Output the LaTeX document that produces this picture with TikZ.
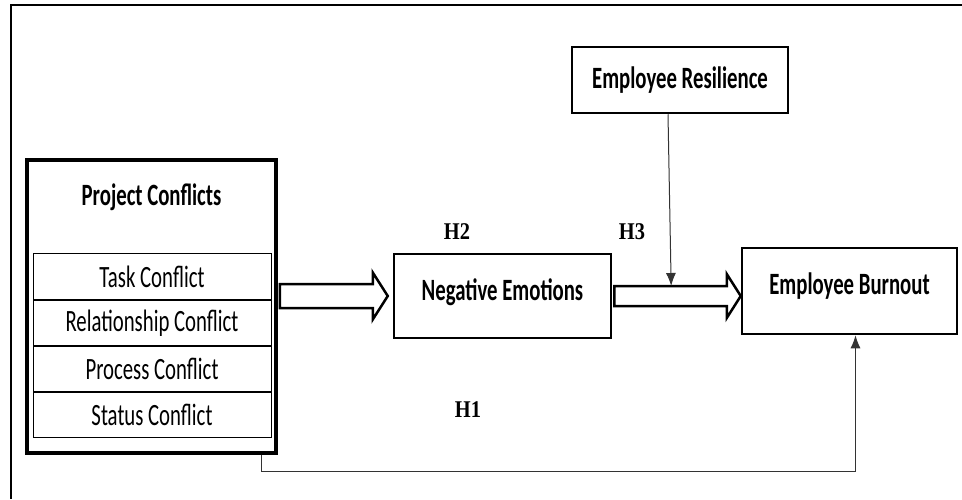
\documentclass[tikz,border=0pt]{standalone}
\usepackage{fontspec}
\setmainfont{Carlito}[FakeStretch=0.67]
\newfontfamily\hypfont{Liberation Serif}[FakeStretch=0.85]
\usetikzlibrary{positioning,calc,arrows.meta}
\tikzset{
    block/.style = {draw, rectangle, line width=2.5pt, inner sep=0pt,
        font=\fontsize{31}{36}\selectfont\bfseries},
    title/.style = {inner sep=0pt, font=\fontsize{31}{36}\selectfont\bfseries},
    row/.style = {draw, rectangle, line width=1pt, inner sep=0pt,
        minimum width=238pt, minimum height=45.25pt,
        font=\fontsize{31}{36}\selectfont},
    hollow/.style = {draw, line width=2.5pt, line join=miter},
    link/.style = {draw, line width=1pt, black!80, -{Latex[length=13pt,width=10pt]}},
    hyp/.style = {inner sep=0pt, font=\hypfont\fontsize{24}{28}\selectfont\bfseries}
}
\begin{document}
\begin{tikzpicture}[x=1pt,y=-1pt]
            \useasboundingbox (0,0) rectangle (962,499);
            \draw[line width=2pt] (962,5) -- (11,5) -- (11,499);
            % conflict types
            \node[block, line width=3.5pt, minimum width=249pt, minimum height=293pt] (pc) at (151.5,306.5) {};
            \node[title] (pctitle) at (151.5,197) {Project Conflicts};
            \node[row] (task) at (152,276.6) {Task Conflict};
            \node[row, below=0pt of task] (rel) {Relationship Conflict};
            \node[row, below=0pt of rel] (proc) {Process Conflict};
            \node[row, below=0pt of proc] (stat) {Status Conflict};
            % mediator, moderator, outcome
            \node[block, minimum width=217pt, minimum height=84pt, text depth=13pt] (ne) at (502.5,296) {Negative Emotions};
            \node[block, minimum width=215pt, minimum height=86pt, text depth=15pt] (eb) at (849.5,291) {Employee Burnout};
            \node[block, minimum width=216pt, minimum height=66pt] (res) at (680,80) {Employee Resilience};
            % hollow arrows
            \coordinate (a1) at ($(pc.east |- ne.west)+(2,0)$);
            \coordinate (t1) at ($(ne.west)+(-5,0)$);
            \draw[hollow] ($(a1)+(0,-12)$) -- ($(t1)+(-15,-12)$) -- ($(t1)+(-15,-23.5)$) -- (t1)
                -- ($(t1)+(-15,23.5)$) -- ($(t1)+(-15,12)$) -- ($(a1)+(0,12)$) -- cycle;
            \coordinate (a2) at ($(ne.east)+(2,0)$);
            \coordinate (t2) at ($(eb.west)+(0,5)$);
            \draw[hollow] ($(a2)+(0,-10)$) -- ($(t2)+(-14,-10)$) -- ($(t2)+(-14,-22)$) -- (t2)
                -- ($(t2)+(-14,22)$) -- ($(t2)+(-14,10)$) -- ($(a2)+(0,10)$) -- cycle;
            % thin links
            \coordinate (mod) at ($(a2)!0.45!(t2)+(0,-10)$);
            \draw[link] ($(res.south)+(-12,0)$) -- (mod);
            \coordinate (h1a) at ($(pc.south east)+(-16,0)$);
            \draw[link] (h1a) -- ++(0,17) -| ($(eb.south)+(6,0)$);
            % hypotheses
            \node[hyp] (h2) at (457,232) {H2};
            \node[hyp] (h3) at (632,232) {H3};
            \node[hyp] (h1) at (468,410) {H1};
\end{tikzpicture}
\end{document}
